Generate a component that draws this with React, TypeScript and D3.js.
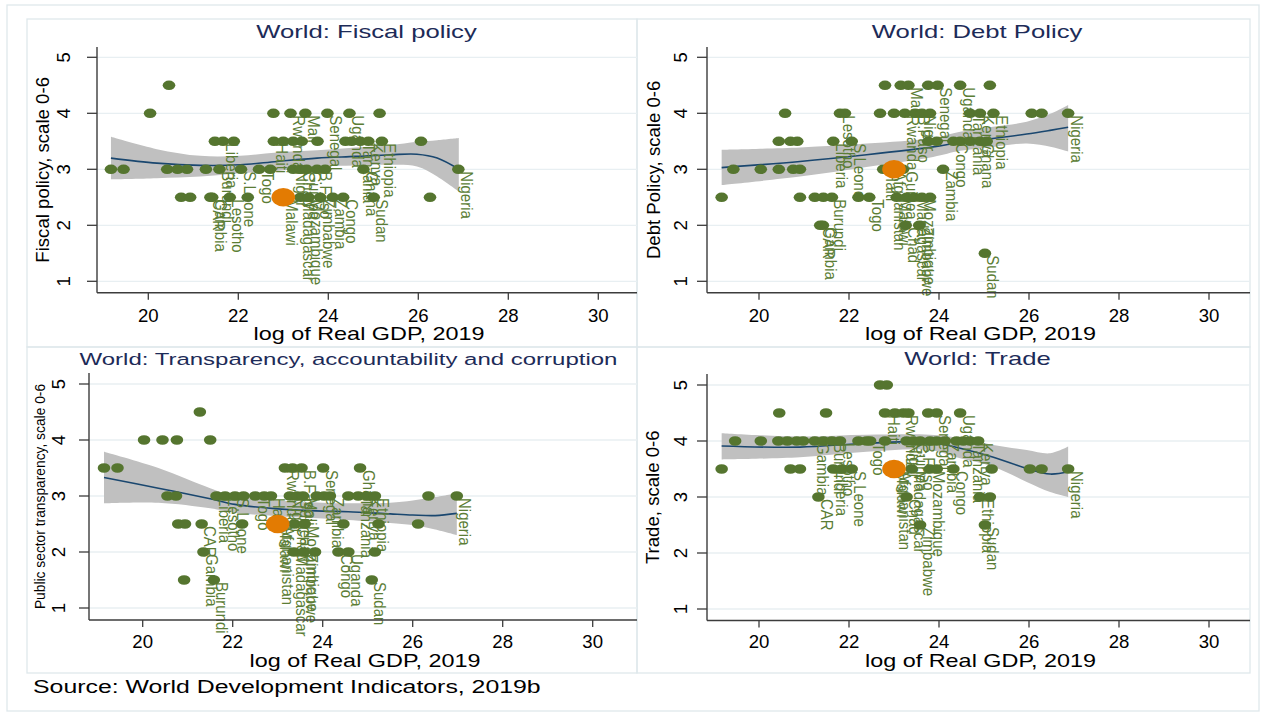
import React, { useEffect } from "react";
import * as d3 from "d3";

type Pt = [number, number, string?];
type Fit = [number, number, number, number]; // x, fit, lower, upper

// ---- data: [log real GDP, score, label] ----
const fiscalPoints: Pt[] = [
  [20.46, 4.5],
  [20.04, 4], [22.78, 4], [23.16, 4, "Rwanda"], [23.49, 4, "Mali"], [23.98, 4, "Senegal"], [24.47, 4, "Uganda"], [25.14, 4],
  [21.48, 3.5], [21.66, 3.5, "Liberia"], [21.9, 3.5], [22.79, 3.5, "Haiti"], [23.0, 3.5], [23.22, 3.5], [23.41, 3.5], [23.76, 3.5],
  [24.38, 3.5], [24.52, 3.5], [24.71, 3.5, "Tanzania"], [24.89, 3.5, "Kenya"], [25.19, 3.5, "Ethiopia"], [26.06, 3.5],
  [19.17, 3], [19.45, 3], [20.42, 3], [20.65, 3], [20.86, 3], [21.28, 3], [21.58, 3, "Burundi"], [22.06, 3, "S.Leone"],
  [22.46, 3, "Togo"], [22.71, 3], [23.22, 3, "Niger"], [23.38, 3, "Chad"], [23.52, 3, "Guinea"], [23.75, 3, "B.Faso"],
  [23.93, 3], [24.78, 3, "Ghana"], [26.89, 3, "Nigeria"],
  [20.73, 2.5], [20.93, 2.5], [21.38, 2.5, "CAR"], [21.42, 2.5, "Gambia"], [21.81, 2.5, "Lesotho"], [22.21, 2.5],
  [23.0, 2.5, "Malawi"], [23.38, 2.5, "Madagascar"], [23.56, 2.5, "Mozambique"], [23.82, 2.5, "Zimbabwe"],
  [24.1, 2.5, "Zambia"], [24.33, 2.5, "Congo"], [25.01, 2.5, "Sudan"], [26.26, 2.5],
];
const fiscalFit: Fit[] = [
  [19.17, 3.2, 2.82, 3.58], [20.19, 3.11, 2.84, 3.36], [21.16, 3.07, 2.87, 3.24], [22.04, 3.08, 2.93, 3.24],
  [22.86, 3.14, 2.97, 3.3], [23.75, 3.2, 3.05, 3.34], [24.6, 3.23, 3.07, 3.39], [25.38, 3.26, 3.08, 3.43],
  [25.97, 3.27, 3.05, 3.49], [26.42, 3.2, 2.87, 3.52], [26.9, 3.0, 2.6, 3.56],
];
const fiscalMark: [number, number] = [23.0, 2.5];

const debtPoints: Pt[] = [
  [22.8, 4.5], [23.15, 4.5], [23.32, 4.5, "Mali"], [23.76, 4.5], [23.97, 4.5, "Senegal"], [24.47, 4.5, "Uganda"], [25.13, 4.5],
  [20.58, 4], [21.8, 4, "Lesotho"], [21.91, 4], [22.69, 4], [23.0, 4], [23.24, 4, "Rwanda"], [23.47, 4, "B.Faso"],
  [23.62, 4, "Niger"], [23.8, 4], [24.69, 4, "Tanzania"], [24.91, 4, "Kenya"], [25.21, 4, "Ethiopia"], [26.06, 4],
  [26.28, 4], [26.87, 4, "Nigeria"],
  [20.44, 3.5], [20.7, 3.5], [20.85, 3.5], [21.65, 3.5, "Liberia"], [22.06, 3.5, "S.Leone"], [23.76, 3.5], [23.95, 3.5],
  [24.32, 3.5, "Congo"], [24.47, 3.5], [24.69, 3.5], [24.91, 3.5, "Ghana"], [25.06, 3.5],
  [19.43, 3], [20.04, 3], [20.44, 3], [20.76, 3], [20.91, 3], [22.76, 3, "Haiti"], [22.95, 3, "Afghanistan"],
  [23.2, 3, "Guinea"], [24.09, 3, "Zambia"],
  [19.17, 2.5], [20.91, 2.5], [21.24, 2.5], [21.43, 2.5], [21.62, 2.5, "Burundi"], [22.21, 2.5], [22.45, 2.5, "Togo"],
  [23.06, 2.5, "Malawi"], [23.28, 2.5], [23.45, 2.5, "Madagascar"], [23.62, 2.5, "Mozambique"], [23.8, 2.5],
  [21.36, 2, "CAR"], [21.42, 2, "Gambia"], [23.26, 2, "Chad"], [23.56, 2, "Zimbabwe"],
  [25.02, 1.5, "Sudan"],
];
const debtFit: Fit[] = [
  [19.17, 3.03, 2.72, 3.35], [20.91, 3.14, 2.87, 3.39], [22.39, 3.26, 3.04, 3.46], [23.87, 3.4, 3.22, 3.56],
  [24.47, 3.48, 3.33, 3.67], [25.2, 3.55, 3.4, 3.76], [25.95, 3.63, 3.46, 3.85], [26.5, 3.7, 3.4, 4.0],
  [26.87, 3.75, 3.32, 4.15],
];
const debtMark: [number, number] = [23.0, 3.0];

const transparencyPoints: Pt[] = [
  [21.27, 4.5],
  [20.03, 4], [20.44, 4], [20.76, 4], [21.5, 4],
  [19.14, 3.5], [19.44, 3.5], [23.16, 3.5, "Rwanda"], [23.33, 3.5], [23.53, 3.5, "B.Faso"], [24.01, 3.5, "Senegal"],
  [24.83, 3.5, "Ghana"],
  [20.55, 3], [20.74, 3], [21.64, 3, "Liberia"], [21.83, 3, "Lesotho"], [22.05, 3, "S.Leone"], [22.24, 3],
  [22.5, 3, "Togo"], [22.7, 3], [22.85, 3, "Haiti"], [23.27, 3, "Niger"], [23.43, 3, "Guinea"], [23.56, 3, "Mali"],
  [23.87, 3], [24.03, 3], [24.16, 3, "Zambia"], [24.57, 3], [24.79, 3, "Tanzania"], [24.98, 3, "Kenya"],
  [25.16, 3, "Ethiopia"], [26.35, 3], [26.98, 3, "Nigeria"],
  [20.79, 2.5], [20.94, 2.5], [21.31, 2.5, "CAR"], [22.21, 2.5], [23.0, 2.5, "Malawi"], [23.05, 2.5, "Afghanistan"],
  [23.37, 2.5, "Chad"], [23.6, 2.5, "Mozambique"], [24.46, 2.5], [25.24, 2.5], [26.12, 2.5],
  [21.35, 2, "Gambia"], [23.36, 2, "Madagascar"], [23.58, 2, "Zimbabwe"], [23.83, 2], [24.35, 2, "Congo"],
  [24.57, 2, "Uganda"], [25.16, 2],
  [20.92, 1.5], [21.58, 1.5, "Burundi"], [25.09, 1.5, "Sudan"],
];
const transparencyFit: Fit[] = [
  [19.14, 3.33, 2.87, 3.79], [20.35, 3.14, 2.88, 3.5], [21.5, 2.95, 2.78, 3.14], [22.05, 2.85, 2.7, 3.0],
  [23.0, 2.77, 2.64, 2.92], [24.0, 2.73, 2.6, 2.88], [24.57, 2.72, 2.57, 2.87], [25.5, 2.68, 2.52, 2.88],
  [26.0, 2.66, 2.48, 2.92], [26.5, 2.65, 2.4, 2.98], [26.98, 2.69, 2.3, 3.05],
];
const transparencyMark: [number, number] = [23.0, 2.5];

const tradePoints: Pt[] = [
  [22.69, 5], [22.84, 5],
  [20.45, 4.5], [21.49, 4.5], [22.8, 4.5, "Haiti"], [23.02, 4.5], [23.21, 4.5, "Rwanda"], [23.32, 4.5], [23.76, 4.5],
  [23.95, 4.5, "Senegal"], [24.47, 4.5, "Uganda"],
  [19.47, 4], [20.04, 4], [20.43, 4], [20.63, 4], [20.84, 4], [20.98, 4], [21.24, 4, "Gambia"], [21.43, 4],
  [21.62, 4, "Burundi"], [21.8, 4, "Lesotho"], [22.21, 4], [22.39, 4], [22.47, 4, "Togo"], [22.8, 4],
  [23.28, 4, "Niger"], [23.43, 4, "Guinea"], [23.58, 4, "B.Faso"], [23.8, 4], [23.95, 4], [24.13, 4, "Zambia"],
  [24.39, 4], [24.54, 4], [24.69, 4, "Tanzania"], [24.87, 4, "Kenya"],
  [19.17, 3.5], [20.7, 3.5], [20.91, 3.5], [21.65, 3.5, "Liberia"], [21.84, 3.5], [22.06, 3.5, "S.Leone"],
  [23.0, 3.5, "Malawi"], [23.05, 3.5, "Afghanistan"], [23.39, 3.5, "Madagascar"], [23.8, 3.5, "Mozambique"],
  [23.95, 3.5], [24.32, 3.5, "Congo"], [25.17, 3.5], [26.02, 3.5], [26.28, 3.5], [26.87, 3.5, "Nigeria"],
  [21.32, 3, "CAR"], [23.28, 3, "Chad"], [24.91, 3, "Ethiopia"], [25.13, 3],
  [23.58, 2.5, "Zimbabwe"], [25.02, 2.5, "Sudan"],
];
const tradeFit: Fit[] = [
  [19.17, 3.91, 3.67, 4.14], [20.91, 3.89, 3.71, 4.08], [22.39, 3.96, 3.81, 4.11], [23.8, 3.98, 3.84, 4.11],
  [24.47, 3.87, 3.69, 4.05], [25.21, 3.71, 3.54, 3.93], [25.95, 3.51, 3.27, 3.84], [26.47, 3.41, 3.09, 3.78],
  [26.87, 3.45, 3.0, 3.9],
];
const tradeMark: [number, number] = [23.0, 3.5];

const xTicks = [20, 22, 24, 26, 28, 30];
const yTicks = [1, 2, 3, 4, 5];

// ---- styles ----
const FONT = "'Liberation Sans', Arial, Helvetica, sans-serif";
const GREEN = "#55752f";
const LABEL = "#5b7d35";
const ORANGE = "#e37b02";
const NAVY = "#1a476f";
const BAND = "#c0c0c0";
const GRID = "#e8eff2";
const FRAME = "#dfe8ec";
const AXIS = "#3c3c3c";
const TITLE = "#1d2b58";

interface Layout {
  left: number; right: number; x20: number; y5: number; y1: number;
  top: number; bottom: number; titleX: number; titleY: number; titleSize: number;
  yTickX: number; yTitleX: number; xTickY: number; xTitleY: number;
}

interface PanelProps {
  lay: Layout; title: string; yTitle: string; yTitleSize: number;
  points: Pt[]; fit: Fit[]; mark: [number, number];
}

const Panel: React.FC<PanelProps> = ({ lay, title, yTitle, yTitleSize, points, fit, mark }) => {
  const x = d3.scaleLinear().domain([20, 26]).range([lay.x20, lay.x20 + 270]);
  const y = d3.scaleLinear().domain([1, 5]).range([lay.y1, lay.y5]);
  const curve = d3.curveCatmullRom.alpha(0.5);
  const area = d3.area<Fit>().x((d) => x(d[0])).y0((d) => y(d[2])).y1((d) => y(d[3])).curve(curve);
  const line = d3.line<Fit>().x((d) => x(d[0])).y((d) => y(d[1])).curve(curve);
  const midX = (lay.left + lay.right) / 2;

  return (
    <g>
      {yTicks.map((t) => (
        <line key={"g" + t} x1={lay.left} x2={lay.right} y1={y(t)} y2={y(t)} stroke={GRID} strokeWidth={1.3} />
      ))}
      <path d={area(fit) || ""} fill={BAND} />
      <path d={line(fit) || ""} fill="none" stroke={NAVY} strokeWidth={1.6} />
      {points.filter((p) => p[2]).map((p, i) => (
        <text key={"l" + i} transform={`translate(${x(p[0]) + 2.5},${y(p[1]) + 2}) rotate(90) scale(1,1.15)`}
          fontSize={15} fill={LABEL} fontFamily={FONT}>{p[2]}</text>
      ))}
      {points.map((p, i) => (
        <ellipse key={"p" + i} cx={x(p[0])} cy={y(p[1])} rx={6.3} ry={4.8} fill={GREEN} />
      ))}
      <ellipse cx={x(mark[0])} cy={y(mark[1])} rx={11.8} ry={9.2} fill={ORANGE} />

      {/* axes */}
      <line x1={lay.left} x2={lay.left} y1={lay.top} y2={lay.bottom} stroke={AXIS} strokeWidth={1.4} />
      <line x1={lay.left} x2={lay.right} y1={lay.bottom} y2={lay.bottom} stroke={AXIS} strokeWidth={1.4} />
      {yTicks.map((t) => (
        <g key={"yt" + t}>
          <line x1={lay.left - 10} x2={lay.left} y1={y(t)} y2={y(t)} stroke={AXIS} strokeWidth={1.3} />
          <text transform={`translate(${lay.yTickX},${y(t)}) rotate(-90)`} dy="0.36em" textAnchor="middle"
            fontSize={18.6} fontFamily={FONT} fill="#000">{t}</text>
        </g>
      ))}
      {xTicks.map((t) => (
        <g key={"xt" + t}>
          <line x1={x(t)} x2={x(t)} y1={lay.bottom} y2={lay.bottom + 7} stroke={AXIS} strokeWidth={1.3} />
          <text x={x(t)} y={lay.xTickY} textAnchor="middle" fontSize={18.6} fontFamily={FONT} fill="#000">{t}</text>
        </g>
      ))}
      <text transform={`translate(${lay.yTitleX},${(lay.top + lay.bottom) / 2}) rotate(-90)`} dy="0.36em"
        textAnchor="middle" fontSize={yTitleSize} fontFamily={FONT} fill="#000">{yTitle}</text>
      <text transform={`translate(${midX + 2},${lay.xTitleY}) scale(1.33,1)`} textAnchor="middle"
        fontSize={17.6} fontFamily={FONT} fill="#000">log of Real GDP, 2019</text>
      <text transform={`translate(${lay.titleX},${lay.titleY}) scale(1.38,1)`} textAnchor="middle"
        fontSize={lay.titleSize} fontFamily={FONT} fill={TITLE}>{title}</text>
    </g>
  );
};

const L1: Layout = { left: 97, right: 637, x20: 148.3, y5: 57.3, y1: 281.3, top: 47, bottom: 292.7,
  titleX: 366.5, titleY: 38.3, titleSize: 18.6, yTickX: 63, yTitleX: 42, xTickY: 322, xTitleY: 340 };
const L2: Layout = { left: 707, right: 1250, x20: 759, y5: 57.3, y1: 281.3, top: 47, bottom: 292.7,
  titleX: 977, titleY: 38.3, titleSize: 18.6, yTickX: 680, yTitleX: 653, xTickY: 322, xTitleY: 340 };
const L3: Layout = { left: 89, right: 637, x20: 142.7, y5: 384, y1: 608, top: 373, bottom: 620,
  titleX: 348.5, titleY: 365, titleSize: 17.4, yTickX: 58, yTitleX: 40, xTickY: 648, xTitleY: 667 };
const L4: Layout = { left: 707, right: 1250, x20: 759, y5: 385, y1: 609, top: 374, bottom: 620.5,
  titleX: 977.5, titleY: 365, titleSize: 18.6, yTickX: 680, yTitleX: 652, xTickY: 648, xTitleY: 667 };

export default function App() {
  useEffect(() => {
    document.body.style.margin = "0";
  }, []);

  return (
    <svg width={1265} height={715} viewBox="0 0 1265 715" style={{ display: "block", background: "#fff" }}>
      <rect x={7} y={5} width={1252} height={706} fill="none" stroke={FRAME} strokeWidth={1.3} />
      <rect x={27} y={19} width={610} height={328} fill="none" stroke={FRAME} strokeWidth={1.3} />
      <rect x={637} y={19} width={613} height={328} fill="none" stroke={FRAME} strokeWidth={1.3} />
      <rect x={27} y={347} width={610} height={326} fill="none" stroke={FRAME} strokeWidth={1.3} />
      <rect x={637} y={347} width={613} height={326} fill="none" stroke={FRAME} strokeWidth={1.3} />

      <Panel lay={L1} title="World: Fiscal policy" yTitle="Fiscal policy, scale 0-6" yTitleSize={18.6}
        points={fiscalPoints} fit={fiscalFit} mark={fiscalMark} />
      <Panel lay={L2} title="World: Debt Policy" yTitle="Debt Policy, scale 0-6" yTitleSize={18.6}
        points={debtPoints} fit={debtFit} mark={debtMark} />
      <Panel lay={L3} title="World: Transparency, accountability and corruption"
        yTitle="Public sector transparency, scale 0-6" yTitleSize={13.8}
        points={transparencyPoints} fit={transparencyFit} mark={transparencyMark} />
      <Panel lay={L4} title="World: Trade" yTitle="Trade, scale 0-6" yTitleSize={18.6}
        points={tradePoints} fit={tradeFit} mark={tradeMark} />

      <text transform="translate(33,693) scale(1.42,1)" fontSize={17.5} fontFamily={FONT} fill="#000">
        Source: World Development Indicators, 2019b
      </text>
    </svg>
  );
}
